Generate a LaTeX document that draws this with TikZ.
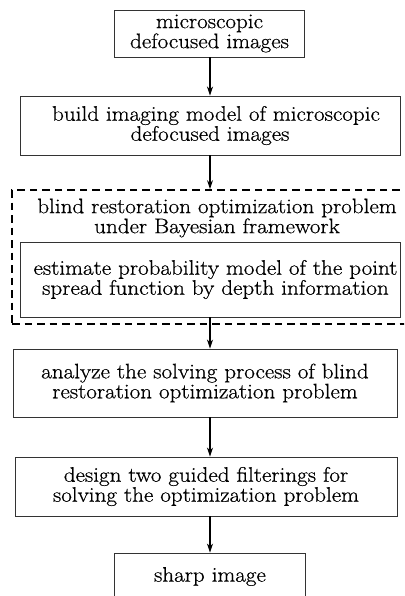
\documentclass[tikz,border=0pt]{standalone}
\usepackage{fontspec}
\setmainfont{Latin Modern Roman}[FakeStretch=1.1, FakeBold=0.6]
\usetikzlibrary{arrows.meta}
\tikzset{
  box/.style={draw=black!80, line width=0.9pt, inner sep=0pt, align=center,
    font=\fontsize{21}{20}\selectfont},
  framebox/.style={draw=black, line width=1.8pt, dash pattern=on 7.5pt off 5pt, inner sep=0pt},
  flow/.style={-{Stealth[length=9pt,width=6pt]}, line width=1.2pt, black},
  plain/.style={inner sep=0pt, align=center, font=\fontsize{21}{20}\selectfont}
}
\begin{document}
\begin{tikzpicture}[x=1pt,y=-1pt]
\useasboundingbox (0,0) rectangle (404,596);
\clip (0,0) rectangle (404,596);
\node[box, minimum width=190pt, minimum height=47pt] (b1) at (209.5,33.5)
  {microscopic\\defocused images};
\node[box, minimum width=380pt, minimum height=59pt] (b2) at (210,125.5)
  {\hspace*{12pt}build imaging model of microscopic\\defocused images};
\node[framebox, minimum width=408pt, minimum height=134pt] (frame) at (216,257) {};
\node[plain] (title) at (217,218)
  {blind restoration optimization problem\\under Bayesian framework};
\node[box, minimum width=380pt, minimum height=75pt] (b3) at (210.5,279.5)
  {\hspace*{10pt}estimate probability model of the point\\\hspace*{10pt}spread function by depth information};
\node[box, minimum width=384pt, minimum height=68pt] (b4) at (205,383)
  {analyze the solving process of blind\\restoration optimization problem};
\node[box, minimum width=382pt, minimum height=59pt] (b5) at (206,486.5)
  {design two guided filterings for\\solving the optimization problem};
\node[box, minimum width=191pt, minimum height=47pt] (b6) at (210,576.5)
  {sharp image};
\draw[flow] (b1.south -| 210,0) -- (b2.north -| 210,0);
\draw[flow] (b2.south -| 210,0) -- (frame.north -| 210,0);
\draw[flow] (b3.south -| 210,0) -- (b4.north -| 210,0);
\draw[flow] (b4.south -| 210,0) -- (b5.north -| 210,0);
\draw[flow] (b5.south -| 210,0) -- (b6.north -| 210,0);
\end{tikzpicture}
\end{document}
